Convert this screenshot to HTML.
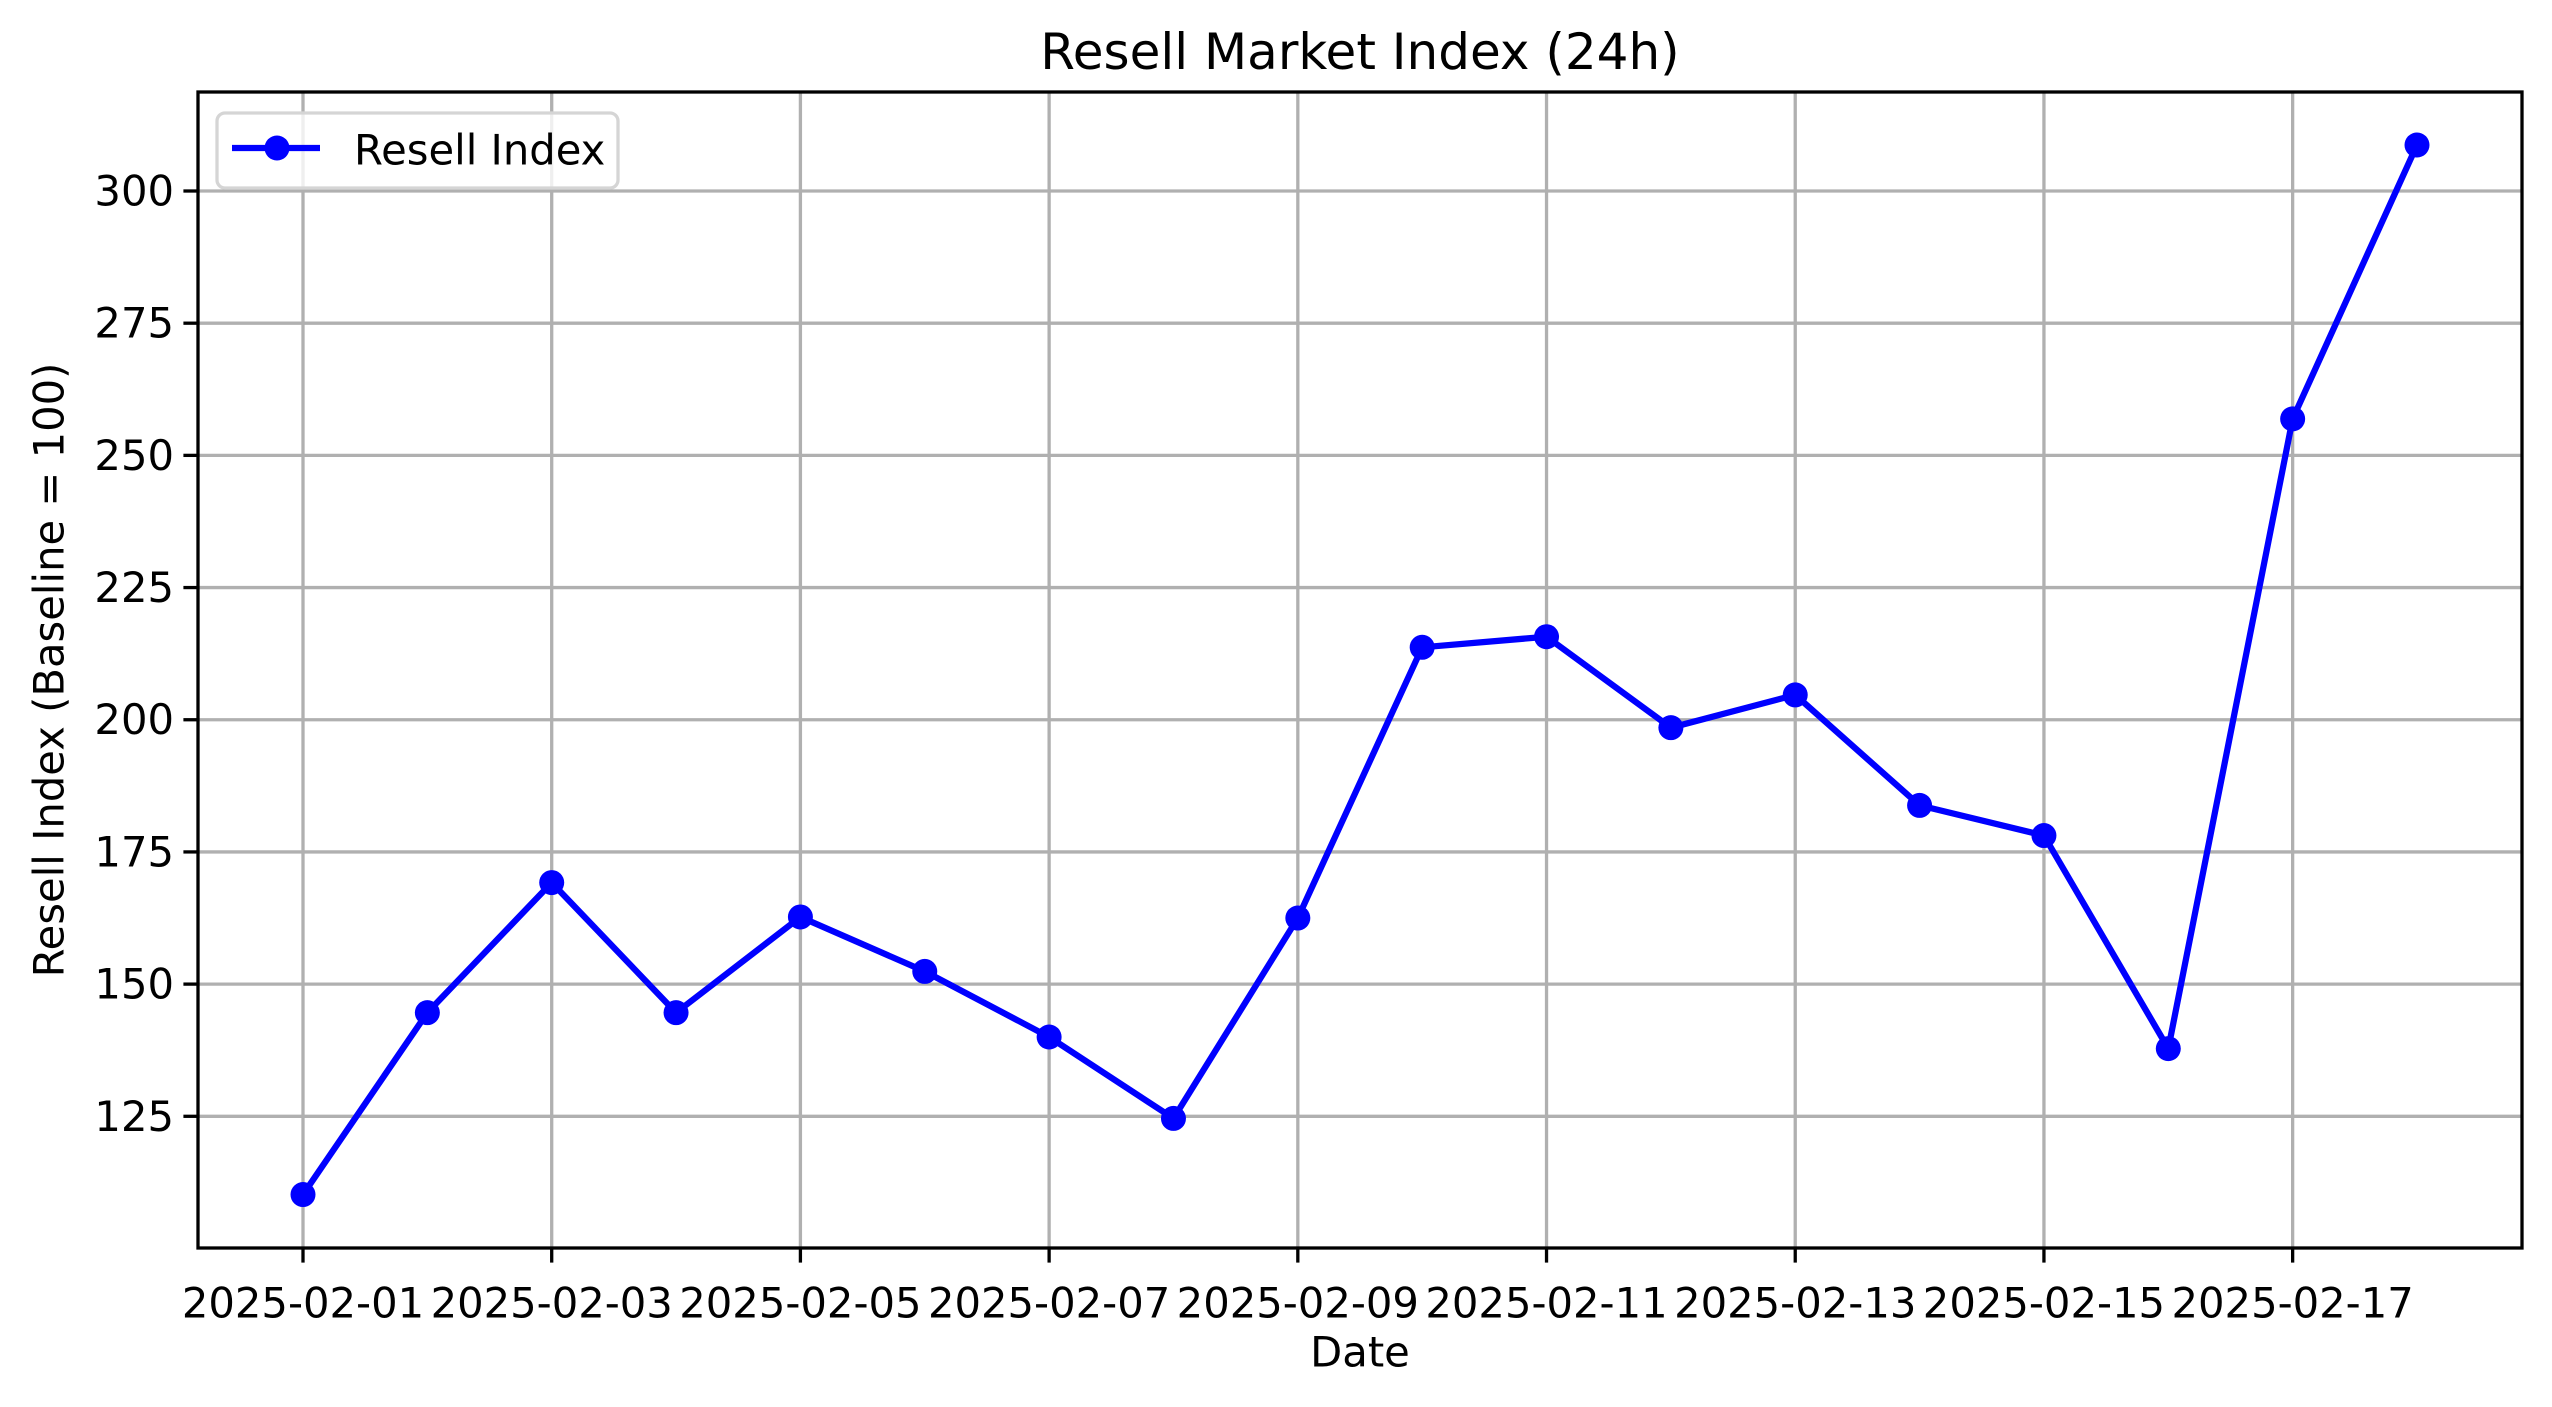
<!DOCTYPE html>
<html><head><meta charset="utf-8"><style>
html,body{margin:0;padding:0;background:#fff;}
svg{display:block;}
text{font-family:"DejaVu Sans","Liberation Sans",sans-serif;fill:#000;}
</style></head>
<body>
<svg id="chart" width="2552" height="1407" viewBox="0 0 2552 1407" xmlns="http://www.w3.org/2000/svg">
<rect width="2552" height="1407" fill="#fff"/>
<g id="grid"></g>
<g id="series"></g>
<rect x="198" y="92" width="2324" height="1156" fill="none" stroke="#000" stroke-width="3.3"/>
<g id="ticks"></g>
<text x="1360" y="52" font-size="50" text-anchor="middle" dominant-baseline="central">Resell Market Index (24h)</text>
<text x="1360" y="1352" font-size="41.7" text-anchor="middle" dominant-baseline="central">Date</text>
<text x="49" y="670" font-size="41.7" text-anchor="middle" dominant-baseline="central" transform="rotate(-90 49 670)">Resell Index (Baseline = 100)</text>
<g>
<rect x="217" y="113" width="401" height="75" rx="8" fill="#fff" fill-opacity="0.8" stroke="#d5d5d5" stroke-width="3.3"/>
<line x1="232" y1="148" x2="320" y2="148" stroke="#0000ff" stroke-width="6.25"/>
<circle cx="277" cy="148" r="12.5" fill="#0000ff"/>
<text x="354" y="150" font-size="41.7" dominant-baseline="central">Resell Index</text>
</g>
</svg>
<script>
const dates = ["2025-02-01","2025-02-02","2025-02-03","2025-02-04","2025-02-05","2025-02-06","2025-02-07","2025-02-08","2025-02-09","2025-02-10","2025-02-11","2025-02-12","2025-02-13","2025-02-14","2025-02-15","2025-02-16","2025-02-17","2025-02-18"];
const values = [110.2,144.6,169.2,144.6,162.7,152.4,140.0,124.6,162.5,213.7,215.7,198.5,204.7,183.8,178.1,137.8,256.9,308.7];
const yTicks = [125,150,175,200,225,250,275,300];
const xTickLabels = ["2025-02-01","2025-02-03","2025-02-05","2025-02-07","2025-02-09","2025-02-11","2025-02-13","2025-02-15","2025-02-17"];

const NS="http://www.w3.org/2000/svg";
const L=198,R=2522,T=92,B=1248;
const x0=303, dayPx=(2417-303)/17;
const y300=191, unitPx=(1116.3-191)/175;
function dayIndex(d){return (Date.parse(d)-Date.parse(dates[0]))/86400000;}
function xs(d){return x0+dayIndex(d)*dayPx;}
function ys(v){return y300+(300-v)*unitPx;}
function mk(tag,attrs,parent){const e=document.createElementNS(NS,tag);for(const k in attrs)e.setAttribute(k,attrs[k]);parent.appendChild(e);return e;}
const grid=document.getElementById('grid'),ticks=document.getElementById('ticks'),series=document.getElementById('series');

yTicks.forEach(v=>{
  const y=ys(v);
  const g=mk('line',{x1:L,x2:R,y1:y,y2:y,stroke:'#b0b0b0','stroke-width':3.3},grid);
  
  
  const t=mk('line',{x1:L-14.6,x2:L,y1:y,y2:y,stroke:'#000','stroke-width':3.3},ticks);
  
  
  const lb=mk('text',{x:L-24,y:y,'font-size':41.7,'text-anchor':'end','dominant-baseline':'central'},ticks);
  lb.textContent=v;
  
  
});
xTickLabels.forEach(d=>{
  const x=xs(d);
  const g=mk('line',{x1:x,x2:x,y1:T,y2:B,stroke:'#b0b0b0','stroke-width':3.3},grid);
  
  
  const t=mk('line',{x1:x,x2:x,y1:B,y2:B+14.6,stroke:'#000','stroke-width':3.3},ticks);
  
  
  const lb=mk('text',{x:x,y:B+55,'font-size':41.7,'text-anchor':'middle','dominant-baseline':'central'},ticks);
  lb.textContent=d;
  
  
});
const pts=dates.map((d,i)=>xs(d)+','+ys(values[i])).join(' ');
const pl=mk('polyline',{points:pts,fill:'none',stroke:'#0000ff','stroke-width':6.25,'stroke-linejoin':'round'},series);


dates.forEach((d,i)=>{
  const c=mk('circle',{cx:xs(d),cy:ys(values[i]),r:12.5,fill:'#0000ff'},series);
  
  
});
</script>
</body></html>
